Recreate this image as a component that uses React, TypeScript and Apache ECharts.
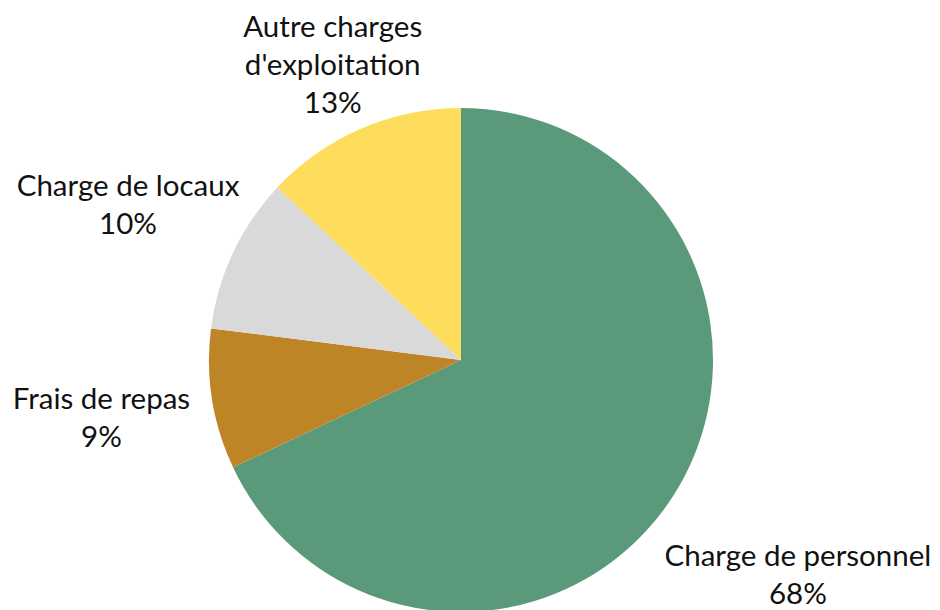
import React, { useEffect, useRef } from "react";
import * as echarts from "echarts";

const categories = [
  "Charge de personnel",
  "Frais de repas",
  "Charge de locaux",
  "Autre charges d'exploitation",
];
const values = [68, 9, 10, 13];
const colors = ["#5A9A7B", "#BE8527", "#D9D9D9", "#FFDD5C"];

// layout constants (not data)
const CX = 461;
const CY = 360;
const R = 252;
const labelGaps = [147, 112, 116, 71];

export default function App() {
  const ref = useRef<HTMLDivElement>(null);
  useEffect(() => {
    if (!ref.current) return;
    const chart = echarts.init(ref.current, undefined, { renderer: "svg" });
    const total = values.reduce((a, b) => a + b, 0);
    const midAngles: number[] = [];
    let acc = 0;
    values.forEach((v) => {
      const start = 90 - (acc / total) * 360;
      const end = 90 - ((acc + v) / total) * 360;
      midAngles.push(((start + end) / 2) * (Math.PI / 180));
      acc += v;
    });
    chart.setOption({
      animation: false,
      backgroundColor: "#ffffff",
      series: [
        {
          type: "pie",
          center: [CX, CY],
          radius: R,
          startAngle: 90,
          clockwise: true,
          data: categories.map((name, i) => ({
            name,
            value: values[i],
            itemStyle: { color: colors[i] },
          })),
          label: {
            show: true,
            position: "outside",
            color: "#111111",
            fontFamily: "Lato",
            fontSize: 29.5,
            lineHeight: 38,
            align: "center",
            overflow: "none",
            edgeDistance: 0,
            formatter: (p: any) =>
              p.name.replace(" d'", "\nd'") + "\n" + Math.round(p.percent) + "%",
          },
          labelLine: { show: false },
          labelLayout: (params: any) => {
            const i = params.dataIndex;
            const a = midAngles[i];
            const d = R + labelGaps[i];
            return {
              x: CX + d * Math.cos(a),
              y: CY - d * Math.sin(a),
              align: "center",
              verticalAlign: "middle",
            };
          },
          emphasis: { disabled: true },
        },
      ],
    });
    return () => chart.dispose();
  }, []);
  return (
    <div
      ref={ref}
      style={{ position: "fixed", left: 0, top: 0, width: 940, height: 610 }}
    />
  );
}
